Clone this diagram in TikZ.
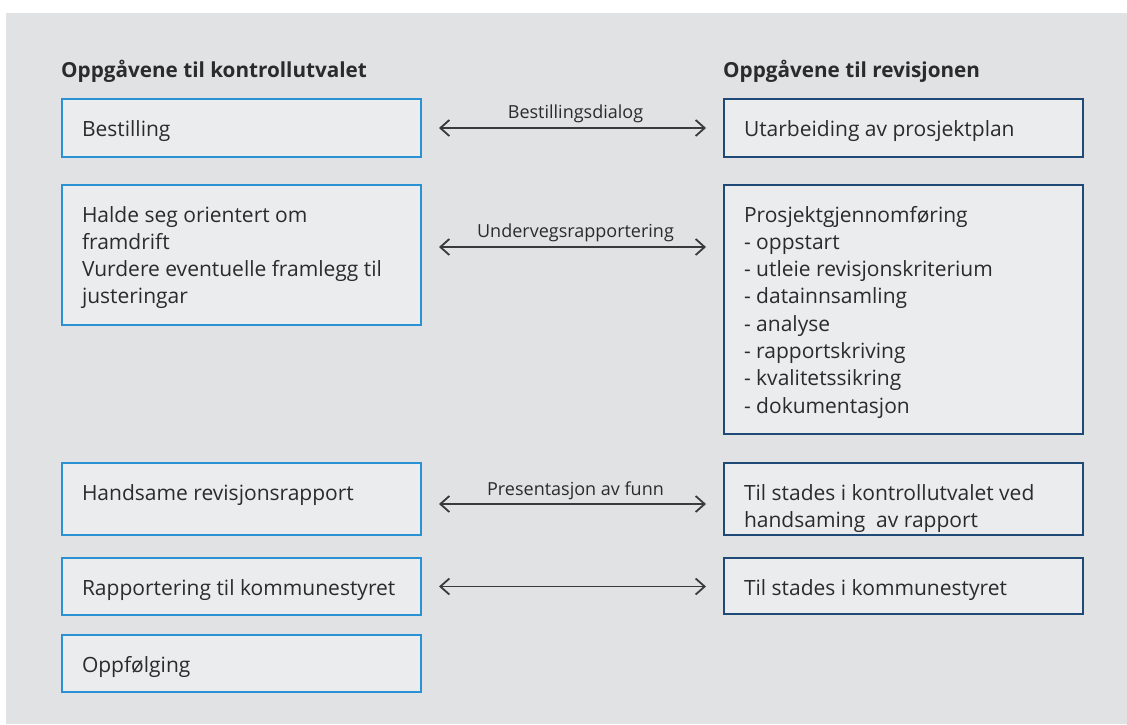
\documentclass[tikz,border=0pt]{standalone}
\usepackage{fontspec}
\setmainfont{Open Sans}
\usetikzlibrary{arrows.meta}
\definecolor{bgc}{HTML}{E1E2E4}
\definecolor{boxfill}{HTML}{EBECEE}
\definecolor{lblue}{HTML}{2A92D4}
\definecolor{dblue}{HTML}{1F4A77}
\definecolor{txt}{HTML}{2B2B2B}
\definecolor{arrc}{HTML}{3A3A3A}
\newcommand{\boxtxt}[2]{\begin{minipage}[t][#1][t]{319pt}\rule{0pt}{37pt}#2\end{minipage}}
\tikzset{
  boxbase/.style={fill=boxfill, line width=2pt, inner xsep=20pt, inner ysep=0pt,
    anchor=north west, text=txt, font=\fontsize{21}{27.3}\selectfont},
  lbox/.style={boxbase, draw=lblue},
  rbox/.style={boxbase, draw=dblue},
  head/.style={anchor=base west, inner sep=0pt, text=txt, font=\fontsize{20.7}{24}\selectfont\bfseries},
  conn/.style={draw=arrc, line width=1.8pt,
    {Straight Barb[length=9pt,width=16pt]}-{Straight Barb[length=9pt,width=16pt]},
    shorten <=17pt, shorten >=17pt},
  lab/.style={midway, anchor=base, inner sep=0pt, text=txt, xshift=3pt,
    font=\fontsize{18}{20}\selectfont}
}
\begin{document}
\begin{tikzpicture}[x=1pt,y=-1pt]
\useasboundingbox (0,0) rectangle (1127,724);
\fill[white] (0,0) rectangle (1127,724);
\fill[bgc] (6,13) rectangle (1127,724);

\node[head] (h1) at (61,77) {Oppgåvene til kontrollutvalet};
\node[head] (h2) at (723,77) {Oppgåvene til revisjonen};

\node[lbox] (l1) at (61,98)  {\boxtxt{58pt}{Bestilling}};
\node[lbox] (l2) at (61,184) {\boxtxt{140pt}{Halde seg orientert om\\framdrift\\Vurdere eventuelle framlegg til\\justeringar}};
\node[lbox] (l3) at (61,462) {\boxtxt{72pt}{Handsame revisjonsrapport}};
\node[lbox] (l4) at (61,557) {\boxtxt{57pt}{Rapportering til kommunestyret}};
\node[lbox] (l5) at (61,634) {\boxtxt{57pt}{Oppfølging}};

\node[rbox] (r1) at (723,98)  {\boxtxt{58pt}{Utarbeiding av prosjektplan}};
\node[rbox] (r2) at (723,184) {\boxtxt{249pt}{Prosjektgjennomføring\\- oppstart\\- utleie revisjonskriterium\\- datainnsamling\\- analyse\\- rapportskriving\\- kvalitetssikring\\- dokumentasjon}};
\node[rbox] (r3) at (723,462) {\boxtxt{72pt}{Til stades i kontrollutvalet ved\\handsaming~~av rapport}};
\node[rbox] (r4) at (723,557) {\boxtxt{56pt}{Til stades i kommunestyret}};

\draw[conn] (l1.east) -- node[lab, yshift=10pt] {Bestillingsdialog} (l1.east -| r1.west);
\draw[conn] ([yshift=8pt]l2.east) -- node[lab, yshift=10pt] {Undervegsrapportering} ([yshift=8pt]l2.east -| r2.west);
\draw[conn] ([yshift=-5pt]l3.east) -- node[lab, yshift=9pt] {Presentasjon av funn} ([yshift=-5pt]l3.east -| r3.west);
\draw[conn] (l4.east) -- (l4.east -| r4.west);
\end{tikzpicture}
\end{document}
